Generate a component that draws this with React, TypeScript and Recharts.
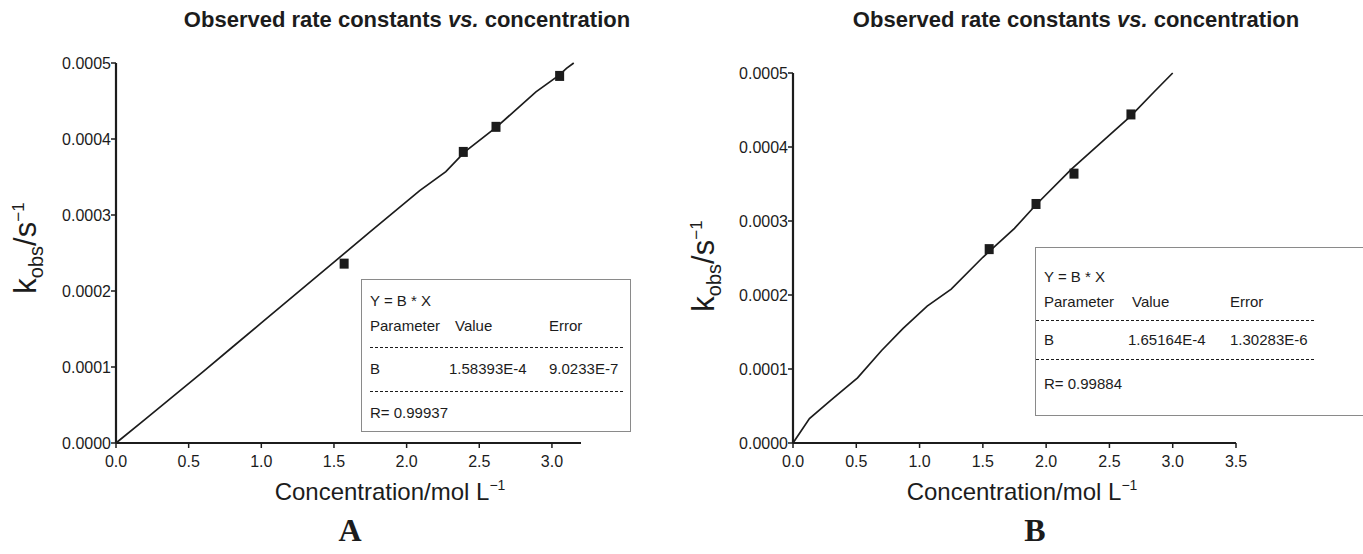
import React from 'react';
import { ComposedChart, Line, Scatter, XAxis, YAxis } from 'recharts';

// panel A: fitted line as drawn, and measured points
const fitA = [
  { x: 0, y: 0 },
  { x: 0.2, y: 0.000031 },
  { x: 0.6, y: 0.000094 },
  { x: 0.8, y: 0.000126 },
  { x: 1.0, y: 0.000158 },
  { x: 1.5, y: 0.000238 },
  { x: 1.75, y: 0.000278 },
  { x: 2.09, y: 0.000332 },
  { x: 2.27, y: 0.000357 },
  { x: 2.4, y: 0.000383 },
  { x: 2.62, y: 0.000416 },
  { x: 2.89, y: 0.000462 },
  { x: 3.05, y: 0.000484 },
  { x: 3.1, y: 0.000493 },
  { x: 3.15, y: 0.0005 },
];
const pointsA = [
  { x: 1.57, y: 0.000236 },
  { x: 2.39, y: 0.000383 },
  { x: 2.615, y: 0.000416 },
  { x: 3.053, y: 0.000483 },
];
const xTicksA = [0, 0.5, 1, 1.5, 2, 2.5, 3];
const xMinorA = [0.25, 2.75];

// panel B
const fitB = [
  { x: 0, y: 0 },
  { x: 0.13, y: 0.000033 },
  { x: 0.3, y: 0.000058 },
  { x: 0.51, y: 0.000088 },
  { x: 0.7, y: 0.000125 },
  { x: 0.87, y: 0.000155 },
  { x: 1.06, y: 0.000185 },
  { x: 1.25, y: 0.000208 },
  { x: 1.5, y: 0.000251 },
  { x: 1.75, y: 0.00029 },
  { x: 1.92, y: 0.000322 },
  { x: 2.2, y: 0.00037 },
  { x: 2.5, y: 0.000416 },
  { x: 2.67, y: 0.000442 },
  { x: 2.85, y: 0.000474 },
  { x: 3.0, y: 0.0005 },
];
const pointsB = [
  { x: 1.55, y: 0.000262 },
  { x: 1.92, y: 0.000323 },
  { x: 2.22, y: 0.000364 },
  { x: 2.67, y: 0.000444 },
];
const xTicksB = [0, 0.5, 1, 1.5, 2, 2.5, 3, 3.5];
const xMinorB = [0.25, 0.75, 1.25, 1.75, 2.25, 2.75, 3.25];
const yMinorB = [0.00005, 0.00015, 0.00025, 0.00035, 0.00045];

const yTicks = [0, 0.0001, 0.0002, 0.0003, 0.0004, 0.0005];

const fitRowsA = ['Y = B * X', 'B', '1.58393E-4', '9.0233E-7', 'R= 0.99937'];
const fitRowsB = ['Y = B * X', 'B', '1.65164E-4', '1.30283E-6', 'R= 0.99884'];

const FONT = '"Liberation Sans", Arial, Helvetica, sans-serif';
const INK = '#1c1c1c';

const Square = (p: any) => (
  <rect x={p.cx - 4.5} y={p.cy - 5} width={9} height={10} fill={INK} />
);
const NoTick = () => <g />;

function XLabel({ viewBox, dx }: any) {
  const x = viewBox.x + dx;
  const y = viewBox.y + 57;
  return (
    <text x={x} y={y} textAnchor="middle" fontFamily={FONT} fontSize={24} fill={INK}>
      Concentration/mol L
      <tspan dy={-10} fontSize={14}>−1</tspan>
    </text>
  );
}

function YLabel({ cx, cy }: any) {
  return (
    <text
      x={cx}
      y={cy}
      transform={`rotate(-90, ${cx}, ${cy})`}
      textAnchor="middle"
      fontFamily={FONT}
      fontSize={31}
      fill={INK}
    >
      k
      <tspan dy={7} fontSize={20}>obs</tspan>
      <tspan dy={-7}>/s</tspan>
      <tspan dy={-12} fontSize={17}>−1</tspan>
    </text>
  );
}

function Panel(props: any) {
  const { width, margin, domain, xTicks, xMinor, yMinor, fit, points, xLabelDx, yLab } = props;
  const tickStyle = { fontFamily: FONT, fontSize: 16, fill: INK };
  return (
    <ComposedChart width={width} height={554} margin={margin}>
      <XAxis
        xAxisId="minor"
        type="number"
        domain={domain}
        ticks={xMinor}
        mirror
        height={0}
        axisLine={false}
        tickSize={4}
        tickLine={{ stroke: INK, strokeWidth: 1.5 }}
        tick={NoTick}
      />
      <XAxis
        type="number"
        dataKey="x"
        domain={domain}
        ticks={xTicks}
        interval={0}
        height={30}
        tickFormatter={(v: number) => v.toFixed(1)}
        tick={tickStyle}
        tickSize={5}
        tickMargin={8}
        axisLine={{ stroke: INK, strokeWidth: 2.2 }}
        tickLine={{ stroke: INK, strokeWidth: 1.5 }}
        label={(lp: any) => <XLabel {...lp} dx={xLabelDx} />}
      />
      {yMinor && (
        <YAxis
          yAxisId="minor"
          type="number"
          domain={[0, 0.0005]}
          ticks={yMinor}
          mirror
          width={0}
          axisLine={false}
          tickSize={3}
          tickLine={{ stroke: INK, strokeWidth: 1.5 }}
          tick={NoTick}
        />
      )}
      <YAxis
        type="number"
        dataKey="y"
        domain={[0, 0.0005]}
        ticks={yTicks}
        interval={0}
        width={60}
        tickFormatter={(v: number) => v.toFixed(4)}
        tick={tickStyle}
        tickSize={5}
        tickMargin={0}
        axisLine={{ stroke: INK, strokeWidth: 2.2 }}
        tickLine={{ stroke: INK, strokeWidth: 1.5 }}
        label={() => <YLabel cx={yLab[0]} cy={yLab[1]} />}
      />
      <Line
        data={fit}
        dataKey="y"
        type="linear"
        stroke={INK}
        strokeWidth={1.7}
        dot={false}
        activeDot={false}
        isAnimationActive={false}
      />
      <Scatter data={points} dataKey="y" shape={Square} isAnimationActive={false} />
    </ComposedChart>
  );
}

function FitBox({ left, top, width, height, rows, rowY, dash, cols }: any) {
  const text = (s: string, x: number, y: number) => (
    <span style={{ position: 'absolute', left: x, top: y - 9, lineHeight: '18px', whiteSpace: 'nowrap' }}>{s}</span>
  );
  const dashes = (y: number) => (
    <div
      style={{
        position: 'absolute',
        left: dash[0],
        top: y,
        width: dash[1] - dash[0],
        height: 1,
        background: `repeating-linear-gradient(90deg, ${INK} 0 3px, transparent 3px 5px)`,
      }}
    />
  );
  return (
    <div
      style={{
        position: 'absolute',
        left,
        top,
        width,
        height,
        border: '1px solid #8a8a8a',
        fontFamily: FONT,
        fontSize: 15,
        color: INK,
        boxSizing: 'border-box',
      }}
    >
      {text(rows[0], cols[0], rowY[0])}
      {text('Parameter', cols[0], rowY[1])}
      {text('Value', cols[1], rowY[1])}
      {text('Error', cols[3], rowY[1])}
      {dashes(rowY[2])}
      {text(rows[1], cols[0], rowY[3])}
      {text(rows[2], cols[2], rowY[3])}
      {text(rows[3], cols[3], rowY[3])}
      {dashes(rowY[4])}
      {text(rows[4], cols[0], rowY[5])}
    </div>
  );
}

const titleStyle: React.CSSProperties = {
  position: 'absolute',
  top: 7,
  fontFamily: FONT,
  fontWeight: 'bold',
  fontSize: 22,
  color: INK,
  whiteSpace: 'nowrap',
  transform: 'translateX(-50%)',
};
const panelLetter: React.CSSProperties = {
  position: 'absolute',
  top: 512,
  fontFamily: '"Liberation Serif", "Times New Roman", serif',
  fontWeight: 'bold',
  fontSize: 32,
  color: INK,
  transform: 'translateX(-50%)',
};

export default function App() {
  return (
    <div style={{ position: 'absolute', left: 0, top: 0, width: 1363, height: 554, background: '#fff', overflow: 'hidden' }}>
      <div style={{ ...titleStyle, left: 407 }}>
        Observed rate constants <i>vs.</i> concentration
      </div>
      <div style={{ ...titleStyle, left: 1076 }}>
        Observed rate constants <i>vs.</i> concentration
      </div>

      <div style={{ position: 'absolute', left: 0, top: 0 }}>
        <Panel
          width={680}
          margin={{ top: 63, right: 99, left: 56, bottom: 81 }}
          domain={[0, 3.2]}
          xTicks={xTicksA}
          xMinor={xMinorA}
          fit={fitA}
          points={pointsA}
          xLabelDx={274}
          yLab={[36, 248]}
        />
      </div>
      <div style={{ position: 'absolute', left: 680, top: 0 }}>
        <Panel
          width={683}
          margin={{ top: 73, right: 127, left: 53, bottom: 81 }}
          domain={[0, 3.5]}
          xTicks={xTicksB}
          xMinor={xMinorB}
          yMinor={yMinorB}
          fit={fitB}
          points={pointsB}
          xLabelDx={229}
          yLab={[34, 266]}
        />
      </div>

      <FitBox
        left={361}
        top={279}
        width={270}
        height={153}
        rows={fitRowsA}
        rowY={[21, 46, 67, 89, 111, 133]}
        dash={[8, 261]}
        cols={[8, 93, 87, 187]}
      />
      <FitBox
        left={1035}
        top={247}
        width={330}
        height={169}
        rows={fitRowsB}
        rowY={[29, 54, 72, 92, 111, 136]}
        dash={[0, 278]}
        cols={[8, 96, 92, 194]}
      />

      <div style={{ ...panelLetter, left: 350 }}>A</div>
      <div style={{ ...panelLetter, left: 1035 }}>B</div>
    </div>
  );
}
